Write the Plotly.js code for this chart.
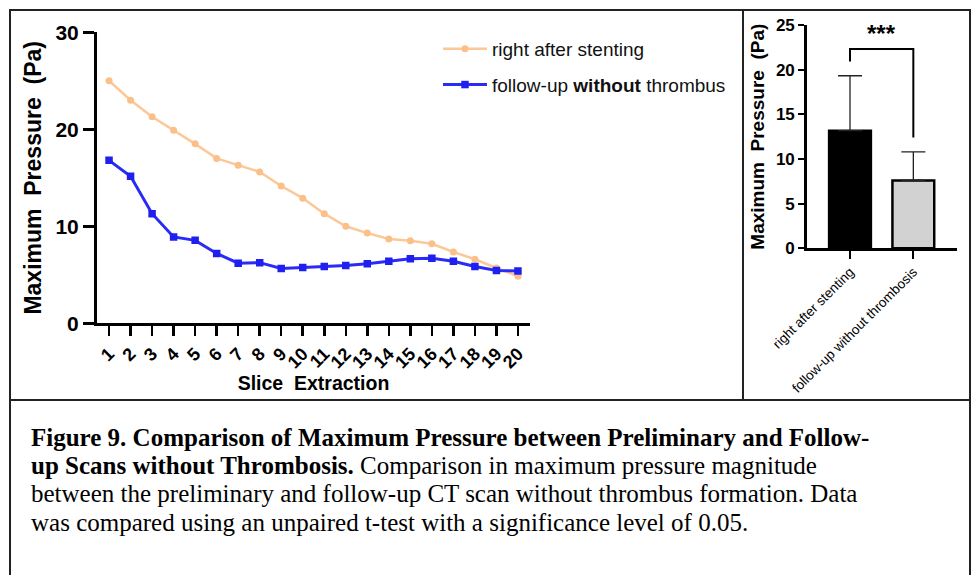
<!DOCTYPE html>
<html>
<head>
<meta charset="utf-8">
<script src="https://cdn.plot.ly/plotly-3.0.1.min.js"></script>
<style>
  html, body { margin: 0; padding: 0; background: #ffffff; }
  #chart { width: 977px; height: 575px; }
</style>
</head>
<body>
<div id="chart"></div>
<script>
// ---- Data ----
const slices = [1,2,3,4,5,6,7,8,9,10,11,12,13,14,15,16,17,18,19,20];
const rightAfterStenting = [25.0,23.0,21.3,19.9,18.5,17.0,16.3,15.6,14.15,12.9,11.3,10.0,9.3,8.7,8.5,8.2,7.35,6.6,5.7,4.85];
const followUpNoThrombus = [16.8,15.15,11.3,8.9,8.55,7.2,6.2,6.25,5.65,5.75,5.85,5.95,6.15,6.4,6.65,6.7,6.4,5.85,5.45,5.4];

const barCategories = ["right after stenting", "follow-up without thrombosis"];
const barMeans = [13.17, 7.6];
const barSD = [6.15, 3.2];
const significance = "***";
const bracketGap = 1.6;     // gap between error bar top and bracket leg
const bracketLevel = 22.3;  // bracket height (data units)

const PW = 977, PH = 575;
const px = v => v / PW;
const py = v => 1 - v / PH;

const SANS = "Liberation Sans, Arial, sans-serif";

const traces = [
  {
    x: slices, y: rightAfterStenting, type: "scatter", mode: "lines+markers",
    name: "right after stenting", legendgroup: "a",
    line: {color: "#fcc898", width: 2.5},
    marker: {color: "#fbc08a", size: 7, symbol: "circle"},
    xaxis: "x", yaxis: "y"
  },
  {
    x: slices, y: followUpNoThrombus, type: "scatter", mode: "lines+markers",
    name: "follow-up <b>without</b> thrombus", legendgroup: "b",
    line: {color: "#2b2bf6", width: 3},
    marker: {color: "#1f1ff0", size: 7.5, symbol: "square"},
    xaxis: "x", yaxis: "y"
  },
  {
    x: [0, 1], y: barMeans, type: "bar", showlegend: false,
    width: 0.66,
    marker: {color: ["#000000", "#d2d2d2"], line: {color: "#000", width: 2.5}},
    error_y: {type: "data", symmetric: false, array: barSD, arrayminus: [0, 0],
              color: "#222", thickness: 1.3, width: 12},
    xaxis: "x2", yaxis: "y2", hoverinfo: "skip"
  }
];

const leftLegY = barMeans[0] + barSD[0] + bracketGap;
const rightLegY = barMeans[1] + barSD[1] + bracketGap;

const shapes = [
  {type: "rect", xref: "paper", yref: "paper", x0: px(10), x1: px(970), y0: py(400), y1: py(10),
   line: {color: "#222", width: 2}},
  {type: "line", xref: "paper", yref: "paper", x0: px(743), x1: px(743), y0: py(400), y1: py(10),
   line: {color: "#222", width: 2}},
  {type: "rect", xref: "paper", yref: "paper", x0: px(10), x1: px(970), y0: py(600), y1: py(400),
   line: {color: "#222", width: 2}},
  {type: "path", xref: "x2", yref: "y2",
   path: `M 0 ${leftLegY} L 0 ${bracketLevel} L 1 ${bracketLevel} L 1 ${rightLegY}`,
   line: {color: "#000", width: 2}}
];

const capFont = {family: "Liberation Serif, Times New Roman, serif", size: 25, color: "#000"};
const captionLines = [
  "<b>Figure 9. Comparison of Maximum Pressure between Preliminary and Follow-</b>",
  "<b>up Scans without Thrombosis.</b> Comparison in maximum pressure magnitude",
  "between the preliminary and follow-up CT scan without thrombus formation. Data",
  "was compared using an unpaired t-test with a significance level of 0.05."
];
const captionY = [437, 465.5, 494, 522.5];

const annotations = captionLines.map((t, i) => ({
  text: t, xref: "paper", yref: "paper", x: px(29), y: py(captionY[i]),
  xanchor: "left", yanchor: "middle", showarrow: false, font: capFont
}));
annotations.push({
  text: significance, xref: "x2", yref: "y2", x: 0.5, y: 24.1,
  showarrow: false, font: {family: SANS, size: 24, color: "#000", weight: 700},
  xanchor: "center", yanchor: "middle"
});

const layout = {
  width: PW, height: PH,
  margin: {l: 0, r: 0, t: 0, b: 0},
  paper_bgcolor: "#fff", plot_bgcolor: "rgba(0,0,0,0)",
  showlegend: true,
  legend: {
    x: px(438), y: py(30), xanchor: "left", yanchor: "top",
    bgcolor: "rgba(0,0,0,0)", traceorder: "grouped", tracegroupgap: 8,
    itemwidth: 44,
    font: {family: SANS, size: 19, color: "#111"}
  },
  xaxis: {
    domain: [px(97), px(530)], range: [0.44, 20.56],
    tickmode: "array", tickvals: slices, ticktext: slices.map(String),
    tickangle: -45, ticks: "outside", ticklen: 10, tickwidth: 2.5, tickcolor: "#000",
    showline: true, linecolor: "#000", linewidth: 3, showgrid: false, zeroline: false,
    tickfont: {family: SANS, size: 18, color: "#000", weight: 700},
    title: {text: "Slice\u00a0 Extraction", font: {family: SANS, size: 19.5, color: "#000", weight: 700}, standoff: 2},
    anchor: "y"
  },
  yaxis: {
    domain: [py(323.3), py(32.3)], range: [0, 30],
    tickvals: [0, 10, 20, 30], ticks: "outside", ticklen: 11, tickwidth: 2.5, tickcolor: "#000",
    showline: true, linecolor: "#000", linewidth: 3, showgrid: false, zeroline: false,
    tickfont: {family: SANS, size: 21, color: "#000", weight: 700},
    title: {text: "Maximum\u00a0 Pressure\u00a0 (Pa)", font: {family: SANS, size: 23, color: "#000", weight: 700}, standoff: 8},
    anchor: "x"
  },
  xaxis2: {
    domain: [px(806.7), px(956.7)], range: [-0.684, 1.685],
    tickmode: "array", tickvals: [0, 1], ticktext: barCategories,
    tickangle: -45, ticks: "outside", ticklen: 8, tickwidth: 2, tickcolor: "#000",
    showline: true, linecolor: "#000", linewidth: 2.5, showgrid: false, zeroline: false,
    tickfont: {family: SANS, size: 13.5, color: "#000"},
    anchor: "y2"
  },
  yaxis2: {
    domain: [py(248.3), py(25)], range: [0, 25],
    tickvals: [0, 5, 10, 15, 20, 25], ticks: "outside", ticklen: 6, tickwidth: 2, tickcolor: "#000",
    showline: true, linecolor: "#000", linewidth: 2.5, showgrid: false, zeroline: false,
    tickfont: {family: SANS, size: 17, color: "#000", weight: 700},
    title: {text: "Maximum\u00a0 Pressure\u00a0 (Pa)", font: {family: SANS, size: 19, color: "#000", weight: 700}, standoff: 6},
    anchor: "x2"
  },
  shapes: shapes,
  annotations: annotations
};

Plotly.newPlot("chart", traces, layout, {displayModeBar: false, staticPlot: true});
</script>
</body>
</html>
